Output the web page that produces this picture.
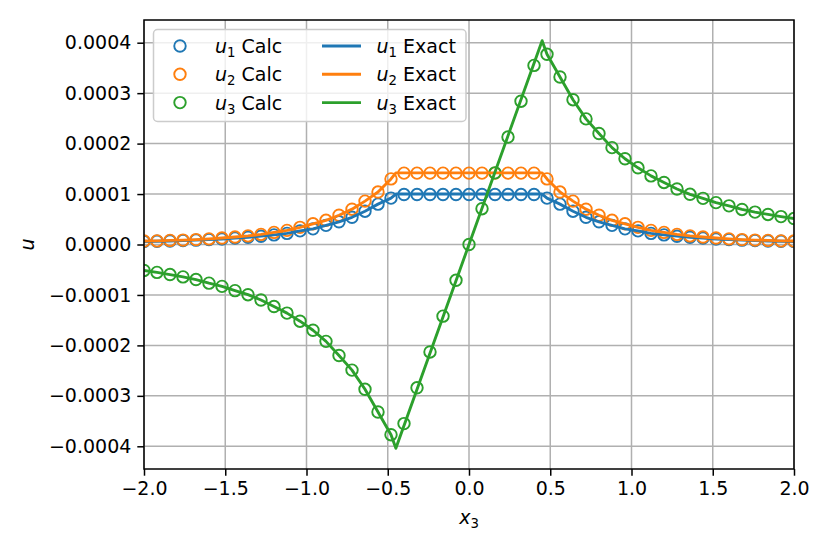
<!DOCTYPE html>
<html>
<head>
<meta charset="utf-8">
<script src="https://cdn.jsdelivr.net/npm/d3@7"></script>
<style>
  body { margin: 0; background: #fff; }
  text { font-family: "DejaVu Sans", sans-serif; fill: #000; }
</style>
</head>
<body>
<div id="chart"></div>
<script>
// sample positions of the calculated points
const xCalc = [-2.0, -1.92, -1.84, -1.76, -1.68, -1.6, -1.52, -1.44, -1.36, -1.28,
  -1.2, -1.12, -1.04, -0.96, -0.88, -0.8, -0.72, -0.64, -0.56, -0.48,
  -0.4, -0.32, -0.24, -0.16, -0.08, 0.0, 0.08, 0.16, 0.24, 0.32, 0.4,
  0.48, 0.56, 0.64, 0.72, 0.8, 0.88, 0.96, 1.04, 1.12, 1.2,
  1.28, 1.36, 1.44, 1.52, 1.6, 1.68, 1.76, 1.84, 1.92, 2.0];

const u1Calc = [5.8e-6, 6.3e-6, 7.0e-6, 7.7e-6, 8.6e-6, 9.7e-6, 1.10e-5, 1.27e-5, 1.45e-5, 1.65e-5,
  1.9e-5, 2.2e-5, 2.7e-5, 3.1e-5, 3.8e-5, 4.5e-5, 5.4e-5, 6.6e-5, 8.0e-5, 9.2e-5,
  9.9e-5, 9.9e-5, 9.9e-5, 9.9e-5, 9.9e-5, 9.9e-5, 9.9e-5, 9.9e-5, 9.9e-5, 9.9e-5, 9.9e-5,
  9.2e-5, 8.0e-5, 6.6e-5, 5.4e-5, 4.5e-5, 3.8e-5, 3.1e-5, 2.7e-5, 2.2e-5, 1.9e-5,
  1.65e-5, 1.45e-5, 1.27e-5, 1.10e-5, 9.7e-6, 8.6e-6, 7.7e-6, 7.0e-6, 6.3e-6, 5.8e-6];

const u2Calc = [6.8e-6, 7.1e-6, 8.1e-6, 8.7e-6, 9.7e-6, 1.11e-5, 1.28e-5, 1.48e-5, 1.7e-5, 2.0e-5,
  2.4e-5, 2.8e-5, 3.4e-5, 4.1e-5, 4.8e-5, 5.8e-5, 7.0e-5, 8.6e-5, 1.04e-4, 1.30e-4,
  1.415e-4, 1.415e-4, 1.415e-4, 1.415e-4, 1.415e-4, 1.415e-4, 1.415e-4, 1.415e-4, 1.415e-4, 1.415e-4, 1.415e-4,
  1.30e-4, 1.04e-4, 8.6e-5, 7.0e-5, 5.8e-5, 4.8e-5, 4.1e-5, 3.4e-5, 2.8e-5, 2.4e-5,
  2.0e-5, 1.7e-5, 1.48e-5, 1.28e-5, 1.11e-5, 9.7e-6, 8.7e-6, 8.1e-6, 7.1e-6, 6.8e-6];

const u3Calc = [-5.14e-5, -5.53e-5, -5.96e-5, -6.42e-5, -6.95e-5, -7.66e-5, -8.3e-5, -9.15e-5, -9.95e-5, -1.10e-4,
  -1.23e-4, -1.36e-4, -1.52e-4, -1.70e-4, -1.92e-4, -2.20e-4, -2.49e-4, -2.87e-4, -3.32e-4, -3.77e-4,
  -3.55e-4, -2.84e-4, -2.13e-4, -1.42e-4, -7.1e-5, 0.0, 7.1e-5, 1.42e-4, 2.13e-4, 2.84e-4, 3.55e-4,
  3.77e-4, 3.32e-4, 2.87e-4, 2.49e-4, 2.20e-4, 1.92e-4, 1.70e-4, 1.52e-4, 1.36e-4, 1.23e-4,
  1.10e-4, 9.95e-5, 9.15e-5, 8.3e-5, 7.66e-5, 6.95e-5, 6.42e-5, 5.96e-5, 5.53e-5, 5.14e-5];

// exact solution: outer points follow the calc values, kinks at the layer edges
const xKink = [-0.45, 0.45];
const u1Kink = [1.0e-4, 1.0e-4];
const u2Kink = [1.42e-4, 1.42e-4];
const u3Kink = [-4.04e-4, 4.04e-4];

const xTicks = [-2.0, -1.5, -1.0, -0.5, 0.0, 0.5, 1.0, 1.5, 2.0];
const yTicks = [-0.0004, -0.0003, -0.0002, -0.0001, 0.0, 0.0001, 0.0002, 0.0003, 0.0004];

const colors = ["#1f77b4", "#ff7f0e", "#2ca02c"];

const width = 830;
const height = 554;
const margin = { top: 20, right: 36, bottom: 85, left: 144 };
const fontSize = 19;

const svg = d3
  .select("#chart")
  .append("svg")
  .attr("width", width)
  .attr("height", height);

const xScale = d3
  .scaleLinear()
  .domain([-2, 2])
  .range([margin.left, width - margin.right]);

const yScale = d3
  .scaleLinear()
  .domain([-0.000445, 0.000445])
  .range([height - margin.bottom, margin.top]);

// grid
svg
  .append("g")
  .selectAll("line")
  .data(xTicks)
  .enter()
  .append("line")
  .attr("x1", d => xScale(d))
  .attr("x2", d => xScale(d))
  .attr("y1", margin.top)
  .attr("y2", height - margin.bottom)
  .attr("stroke", "#b0b0b0")
  .attr("stroke-width", 1.5);

svg
  .append("g")
  .selectAll("line")
  .data(yTicks)
  .enter()
  .append("line")
  .attr("x1", margin.left)
  .attr("x2", width - margin.right)
  .attr("y1", d => yScale(d))
  .attr("y2", d => yScale(d))
  .attr("stroke", "#b0b0b0")
  .attr("stroke-width", 1.5);

svg
  .append("clipPath")
  .attr("id", "plot-clip")
  .append("rect")
  .attr("x", margin.left)
  .attr("y", margin.top)
  .attr("width", width - margin.left - margin.right)
  .attr("height", height - margin.top - margin.bottom);

const plot = svg.append("g").attr("clip-path", "url(#plot-clip)");

const calcSeries = [u1Calc, u2Calc, u3Calc];
const kinkSeries = [u1Kink, u2Kink, u3Kink];

// calc markers
calcSeries.forEach((vals, i) => {
  plot
    .append("g")
    .selectAll("circle")
    .data(xCalc.map((x, j) => [x, vals[j]]))
    .enter()
    .append("circle")
    .attr("cx", d => xScale(d[0]))
    .attr("cy", d => yScale(d[1]))
    .attr("r", 5.75)
    .attr("fill", "none")
    .attr("stroke", colors[i])
    .attr("stroke-width", 1.9);
});

// exact lines
const line = d3
  .line()
  .x(d => xScale(d[0]))
  .y(d => yScale(d[1]));

calcSeries.forEach((vals, i) => {
  const pts = xCalc
    .map((x, j) => [x, vals[j]])
    .filter(d => Math.abs(d[0]) > 0.45)
    .concat(xKink.map((x, j) => [x, kinkSeries[i][j]]))
    .sort((a, b) => a[0] - b[0]);
  plot
    .append("path")
    .datum(pts)
    .attr("d", line)
    .attr("fill", "none")
    .attr("stroke", colors[i])
    .attr("stroke-width", 2.9)
    .attr("stroke-linejoin", "round");
});

// axes
const xAxis = svg
  .append("g")
  .attr("transform", "translate(0," + (height - margin.bottom) + ")")
  .call(
    d3
      .axisBottom(xScale)
      .tickValues(xTicks)
      .tickSize(6.7)
      .tickPadding(6)
      .tickFormat(d3.format(".1f"))
  );

const yAxis = svg
  .append("g")
  .attr("transform", "translate(" + margin.left + ",0)")
  .call(
    d3
      .axisLeft(yScale)
      .tickValues(yTicks)
      .tickSize(6.7)
      .tickPadding(6)
      .tickFormat(d3.format(".4f"))
  );

[xAxis, yAxis].forEach(ax => {
  ax.select(".domain").remove();
  ax.selectAll(".tick line").attr("stroke", "#000").attr("stroke-width", 1.5);
  ax.selectAll(".tick text")
    .style("font-family", "DejaVu Sans")
    .style("font-size", fontSize + "px")
    .attr("fill", "#000");
});

// frame
svg
  .append("rect")
  .attr("x", margin.left)
  .attr("y", margin.top)
  .attr("width", width - margin.left - margin.right)
  .attr("height", height - margin.top - margin.bottom)
  .attr("fill", "none")
  .attr("stroke", "#000")
  .attr("stroke-width", 1.5);

// math-ish label: italic symbol with roman subscript
const mathLabel = (sel, sym, sub, rest) => {
  sel.append("tspan").attr("font-style", "italic").text(sym);
  if (sub) {
    sel.append("tspan").attr("font-size", fontSize * 0.7 + "px").attr("dy", 4).text(sub);
  }
  if (rest) {
    sel.append("tspan").attr("dy", sub ? -4 : 0).text(rest);
  }
};

const xLabel = svg
  .append("text")
  .attr("x", xScale(0))
  .attr("y", 524)
  .attr("text-anchor", "middle")
  .style("font-size", fontSize + "px");
mathLabel(xLabel, "x", "3", null);

const yLabel = svg
  .append("text")
  .attr("transform", "translate(34," + yScale(0) + ") rotate(-90)")
  .attr("text-anchor", "middle")
  .style("font-size", fontSize + "px");
mathLabel(yLabel, "u", null, null);

// legend
const legend = svg.append("g").attr("transform", "translate(153.5,29.5)");

legend
  .append("rect")
  .attr("width", 312.5)
  .attr("height", 92)
  .attr("rx", 4)
  .attr("fill", "#fff")
  .attr("fill-opacity", 0.8)
  .attr("stroke", "#cccccc")
  .attr("stroke-width", 1.5);

const legendRows = ["1", "2", "3"];
legendRows.forEach((sub, i) => {
  const cy = 16.5 + i * 28.3;
  legend
    .append("circle")
    .attr("cx", 26.5)
    .attr("cy", cy)
    .attr("r", 5.75)
    .attr("fill", "none")
    .attr("stroke", colors[i])
    .attr("stroke-width", 1.9);
  const t1 = legend
    .append("text")
    .attr("x", 61.5)
    .attr("y", cy + 7)
    .style("font-size", fontSize + "px");
  mathLabel(t1, "u", sub, " Calc");

  legend
    .append("line")
    .attr("x1", 168.5)
    .attr("x2", 207.5)
    .attr("y1", cy)
    .attr("y2", cy)
    .attr("stroke", colors[i])
    .attr("stroke-width", 2.9);
  const t2 = legend
    .append("text")
    .attr("x", 223)
    .attr("y", cy + 7)
    .style("font-size", fontSize + "px");
  mathLabel(t2, "u", sub, " Exact");
});
</script>
</body>
</html>
